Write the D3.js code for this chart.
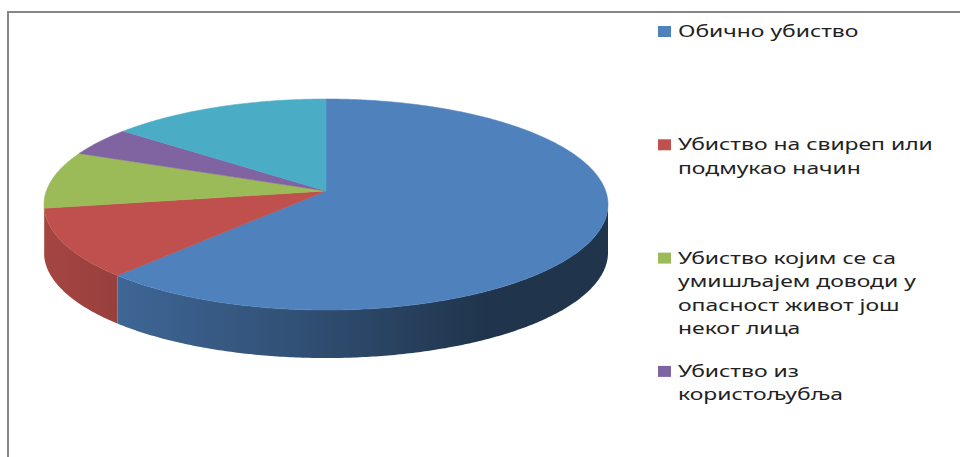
<!DOCTYPE html>
<head>
  <meta charset="utf-8">
  <style>
    body { margin: 0; background: #fff; }
    svg { display: block; }
    text { font-family: "Noto Sans", "Open Sans", sans-serif; }
  </style>
</head>
<svg width="960" height="457"></svg>
<script src="https://cdnjs.cloudflare.com/ajax/libs/d3/7.8.5/d3.min.js"></script>
<script>
  // data (share of each kind, in %)
  const categories = [
    "Обично убиство",
    "Убиство на свиреп или подмукао начин",
    "Убиство којим се са умишљајем доводи у опасност живот још неког лица",
    "Убиство из користољубља",
    "Остала убиства"
  ];
  const values = [61.8, 10.6, 8.8, 4.5, 14.3];
  const colors = ["#4f81bd", "#c0504d", "#9bbb59", "#8064a2", "#4bacc6"];
  // legend labels, wrapped as in the picture
  const legendLines = [
    ["Обично убиство"],
    ["Убиство на свиреп или", "подмукао начин"],
    ["Убиство којим се са", "умишљајем доводи у", "опасност живот још", "неког лица"],
    ["Убиство из", "користољубља"],
    ["Остала убиства"]
  ];

  const W = 960, H = 457;
  const svg = d3.select("svg");

  // chart frame (right and bottom edges fall outside the picture)
  svg.append("path")
    .attr("d", `M8,${H + 5} V12 H${W + 5}`)
    .attr("fill", "none")
    .attr("stroke", "#868686")
    .attr("stroke-width", 2);

  // 3d pie geometry, a bit of perspective so the far half looks smaller
  const cx = 326, cy = 191, rx = 279.7, ry = 103.8, k = 0.128, depth = 48;

  function proj(theta, dy) {
    var u = Math.sin(theta), v = Math.cos(theta), s = 1 + k * v;
    return [cx + rx * u / s, cy - ry * v / s + (dy || 0)];
  }

  function rim(a0, a1, dy) {
    var n = Math.max(2, Math.ceil((a1 - a0) / 0.01)), pts = [];
    for (var i = 0; i <= n; i++) pts.push(proj(a0 + (a1 - a0) * i / n, dy));
    return pts;
  }

  const pie = d3.pie().sort(null).startAngle(0).endAngle(2 * Math.PI);
  const arcs = pie(values);
  const line = d3.line();

  // side shading gradients
  const defs = svg.append("defs");
  colors.forEach(function(c, i) {
    var g = defs.append("linearGradient")
      .attr("id", "side" + i)
      .attr("gradientUnits", "userSpaceOnUse")
      .attr("x1", cx - rx * 1.01).attr("x2", cx + rx * 1.01)
      .attr("y1", 0).attr("y2", 0);
    var base = d3.rgb(c);
    function shade(f) { return d3.rgb(base.r * f, base.g * f, base.b * f).formatHex(); }
    g.append("stop").attr("offset", 0).attr("stop-color", shade(0.86));
    g.append("stop").attr("offset", 0.45).attr("stop-color", shade(0.62));
    g.append("stop").attr("offset", 0.78).attr("stop-color", shade(0.41));
    g.append("stop").attr("offset", 1).attr("stop-color", shade(0.40));
  });

  // the front wall is visible between the two widest points of the rim
  const frontA = Math.acos(-k), frontB = 2 * Math.PI - Math.acos(-k);

  var sides = svg.append("g");
  arcs.forEach(function(d, i) {
    var s = Math.max(d.startAngle, frontA), e = Math.min(d.endAngle, frontB);
    if (e <= s) return;
    var pts = rim(s, e, 0).concat(rim(s, e, depth).reverse());
    sides.append("path")
      .attr("d", line(pts) + "Z")
      .attr("fill", "url(#side" + i + ")");
  });

  var tops = svg.append("g");
  tops.selectAll("path")
    .data(arcs)
    .enter().append("path")
    .attr("d", function(d) {
      return line([[cx, cy]].concat(rim(d.startAngle, d.endAngle, 0))) + "Z";
    })
    .attr("fill", function(d, i) { return colors[i]; })
    .attr("stroke", function(d, i) { return colors[i]; })
    .attr("stroke-width", 0.5);

  // legend
  const legendX = 658, firstBase = 37, step = 113.3, lineH = 23.6;
  var legend = svg.append("g");
  var entries = legend.selectAll("g")
    .data(legendLines.filter(function(l, i) { return firstBase + i * step < H; }))
    .enter().append("g")
    .attr("transform", function(d, i) { return "translate(" + legendX + "," + (firstBase + i * step) + ")"; });

  entries.append("rect")
    .attr("x", 0).attr("y", -11)
    .attr("width", 13).attr("height", 11)
    .attr("fill", function(d, i) { return colors[i]; });

  var txt = entries.append("g")
    .attr("class", "lab")
    .attr("transform", "translate(20,0)");
  txt.append("text")
    .attr("font-size", 17)
    .attr("fill", "#222")
    .selectAll("tspan")
    .data(function(d) { return d; })
    .enter().append("tspan")
    .attr("x", 0)
    .attr("y", function(d, i) { return i * lineH; })
    .text(function(d) { return d; });

  // the picture's text is stretched sideways; match the widest line
  var probe = legend.selectAll("tspan").filter(function(d) { return d === "Убиство на свиреп или"; }).node();
  var sx = probe ? 255 / probe.getComputedTextLength() : 1.3;
  legend.selectAll("g.lab").attr("transform", "translate(20,0) scale(" + sx + ",1)");
</script>
